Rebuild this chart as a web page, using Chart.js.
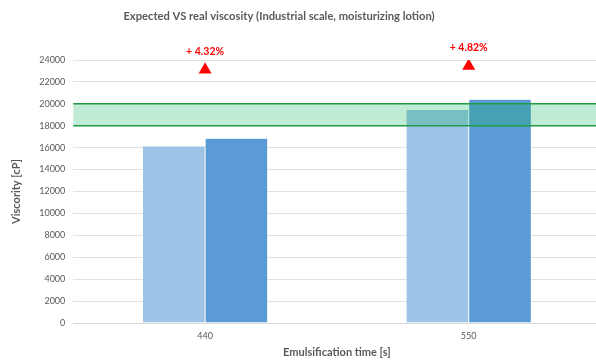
<!DOCTYPE html>
<html>
<head>
<meta charset="utf-8">
<script src="https://cdn.jsdelivr.net/npm/chart.js@4"></script>
<style>
  html, body { margin: 0; padding: 0; background: #fff; overflow: hidden; }
</style>
</head>
<body>
<canvas id="visc-chart" width="608" height="361"></canvas>
<script>
// emulsification times and measured viscosities (cP)
var times    = ['440', '550'];
var expected = [16150, 19480];
var real     = [16848, 20419];
// red increase markers, one per time
var markerY  = [23100, 23450];
// target viscosity window
var specRange = [18000, 20000];
var yMax  = 24000;
var yStep = 2000;

var chartTitle = 'Expected VS real viscosity (Industrial scale, moisturizing lotion)';
var grey = '#595959';
var font = "Lato, 'Open Sans', sans-serif";

// percent increase real vs expected
var increase = [];
for (let i = 0; i < times.length; i++) {
    increase.push('+ ' + ((real[i] / expected[i] - 1) * 100).toFixed(2) + '%');
}

// green band for the spec range (drawn over the bars), % labels and title
var overlay = {
    id: 'overlay',
    afterDatasetsDraw: function(chart) {
        var ctx = chart.ctx;
        var area = chart.chartArea;
        var y = chart.scales.y;
        var top = y.getPixelForValue(specRange[1]);
        var bottom = y.getPixelForValue(specRange[0]);
        ctx.save();
        ctx.fillStyle = 'rgba(17,180,93,0.265)';
        ctx.fillRect(area.left, top, area.right - area.left, bottom - top);
        ctx.strokeStyle = '#1f9c45';
        ctx.lineWidth = 1.5;
        ctx.beginPath();
        ctx.moveTo(area.left, top);
        ctx.lineTo(area.right, top);
        ctx.moveTo(area.left, bottom);
        ctx.lineTo(area.right, bottom);
        ctx.stroke();

        var meta = chart.getDatasetMeta(2);
        ctx.fillStyle = '#ff0000';
        ctx.font = 'bold 10.5px ' + font;
        ctx.textAlign = 'center';
        ctx.textBaseline = 'middle';
        meta.data.forEach(function(pt, i) {
            ctx.fillText(increase[i], pt.x, pt.y - 7.5 - 11);
        });

        ctx.fillStyle = grey;
        ctx.font = 'bold 11.2px ' + font;
        ctx.fillText(chartTitle, 279, 16);
        ctx.restore();
    }
};

new Chart(document.getElementById('visc-chart'), {
    type: 'bar',
    data: {
        labels: times,
        datasets: [
            {
                label: 'Expected',
                data: expected,
                backgroundColor: '#9dc3e6',
                borderColor: 'rgba(255,255,255,0.5)',
                borderWidth: 0.5,
                barPercentage: 1,
                categoryPercentage: 0.475
            },
            {
                label: 'Real',
                data: real,
                backgroundColor: '#5b9bd5',
                borderColor: 'rgba(255,255,255,0.5)',
                borderWidth: 0.5,
                barPercentage: 1,
                categoryPercentage: 0.475
            },
            {
                type: 'line',
                label: 'Increase',
                data: markerY,
                showLine: false,
                pointStyle: 'triangle',
                pointRadius: 7.5,
                pointBackgroundColor: '#ff0000',
                pointBorderWidth: 0
            }
        ]
    },
    options: {
        responsive: false,
        animation: false,
        layout: { padding: { left: 3, right: 0, top: 60, bottom: 0 } },
        plugins: {
            legend: { display: false },
            tooltip: { enabled: false },
            title: { display: false }
        },
        scales: {
            x: {
                grid: { display: false, drawTicks: false },
                border: { color: '#d9d9d9' },
                ticks: { color: grey, padding: 8, font: { family: font, size: 9 } },
                title: {
                    display: true,
                    text: 'Emulsification time [s]',
                    color: grey,
                    font: { family: font, size: 11, weight: 'bold' },
                    padding: { top: -4, bottom: 2 }
                }
            },
            y: {
                min: 0,
                max: yMax,
                grid: { color: '#e0e0e0', drawTicks: false },
                border: { display: false },
                ticks: {
                    stepSize: yStep,
                    color: grey,
                    padding: 8,
                    font: { family: font, size: 9 },
                    callback: function(v) { return String(v); }
                },
                title: {
                    display: true,
                    text: 'Viscority [cP]',
                    color: grey,
                    font: { family: font, size: 11, weight: 'bold' },
                    padding: { top: 7, bottom: 8 }
                }
            }
        }
    },
    plugins: [overlay]
});
</script>
</body>
</html>
